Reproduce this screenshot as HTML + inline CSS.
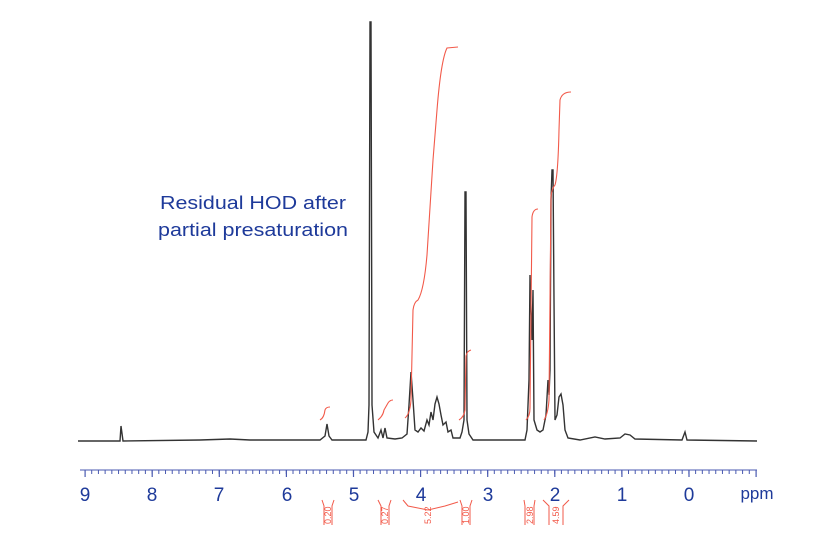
<!DOCTYPE html><html><head><style>body{margin:0;background:#fff}svg{display:block}</style></head><body>
<svg width="827" height="548" xmlns="http://www.w3.org/2000/svg" font-family="Liberation Sans, sans-serif">
<g fill="none" stroke="#333" stroke-width="1.4">
<path d="M78,441 L120,441 L121,426 L123,441 L200,440 L230,439 L250,440 L320,440 L325,436 L327,424 L329,436 L332,440 L366,440 L368,432 L369,405 L370,22 L371,22 L372,405 L374,432 L378,438 L381,430 L383,438 L385,428 L387,438 L395,439 L402,438 L407,434 L409,405 L411,372 L413,400 L415,430 L418,432 L421,428 L424,431 L427,420 L429,425 L431,412 L433,420 L435,404 L437,397 L439,404 L441,415 L443,425 L446,422 L448,432 L451,430 L453,438 L460,438 L462,432 L464,420 L465,192 L466,192 L467,420 L469,434 L473,440 L525,440 L527,430 L529,380 L530,275 L531,310 L532,340 L533,290 L534,420 L537,430 L540,432 L543,430 L546,415 L548,380 L549,395 L550,370 L551,200 L552,170 L553,170 L554,300 L555,420 L557,415 L559,397 L561,394 L563,405 L565,430 L568,438 L580,440 L595,437 L605,439 L620,438 L625,434 L630,435 L635,439 L682,440 L685,432 L687,440 L757,441"/>
</g>
<g fill="none" stroke="#f25a4a" stroke-width="1.1">
<path d="M320,420 Q324,418 325,410 Q326,407 330,407"/>
<path d="M378,420 Q383,416 384,410 L388,403 Q390,400 393,400"/>
<path d="M405,418 Q410,414 411,400 L413,310 Q414,302 418,300 Q424,290 427,255 L433,160 L437,110 Q441,60 447,48 L458,47"/>
<path d="M459,420 Q464,417 465,410 L466,356 Q467,351 471,350"/>
<path d="M526,420 Q530,416 530,408 L532,217 Q533,209 538,209"/>
<path d="M544,420 Q548,414 549,400 L551,196 Q552,188 555,185 Q558,175 559,130 L560,100 Q562,92 571,92"/>
</g>
<g stroke="#4a5ab0" stroke-width="1">
<line x1="80" y1="470" x2="757" y2="470"/>
<line x1="84.5" y1="470" x2="757" y2="470" stroke-width="4" stroke-dasharray="1 5.71" transform="translate(0,2)"/>
<line x1="84.5" y1="470" x2="757" y2="470" stroke-width="7" stroke-dasharray="1.2 65.9" transform="translate(0,3.5)"/>
</g>
<g fill="#1e3a9a" font-size="19" text-anchor="middle">
<text x="85" y="501">9</text><text x="152" y="501">8</text><text x="219" y="501">7</text><text x="287" y="501">6</text><text x="354" y="501">5</text><text x="421" y="501">4</text><text x="488" y="501">3</text><text x="555" y="501">2</text><text x="622" y="501">1</text><text x="689" y="501">0</text><text x="757" y="499" font-size="17">ppm</text>
</g>
<g fill="#1e3a9a" font-size="18.5">
<text x="160" y="209" textLength="186" lengthAdjust="spacingAndGlyphs">Residual HOD after</text>
<text x="158" y="236" textLength="190" lengthAdjust="spacingAndGlyphs">partial presaturation</text>
</g>
<g fill="none" stroke="#f25a4a" stroke-width="1">
<path d="M322,500 L324,506 L324,525 M334,500 L332,506 L332,525"/>
<path d="M378,500 L381,506 L381,525 M391,500 L389,506 L389,525"/>
<path d="M403,500 L408,506 L428,510 L445,506 L458,502"/>
<path d="M460,500 L462,506 L462,525 M472,500 L470,506 L470,525"/>
<path d="M524,500 L525,506 L525,525 M535,500 L534,506 L534,525"/>
<path d="M543,500 L549,506 L549,525 M569,500 L563,506 L563,525"/>
</g>
<g fill="#f25a4a" font-size="9">
<text transform="translate(331,524) rotate(-90)">0.20</text>
<text transform="translate(388,524) rotate(-90)">0.27</text>
<text transform="translate(431,524) rotate(-90)">5.22</text>
<text transform="translate(469,524) rotate(-90)">1.00</text>
<text transform="translate(533,524) rotate(-90)">2.98</text>
<text transform="translate(559,524) rotate(-90)">4.59</text>
</g>
</svg>
</body></html>
